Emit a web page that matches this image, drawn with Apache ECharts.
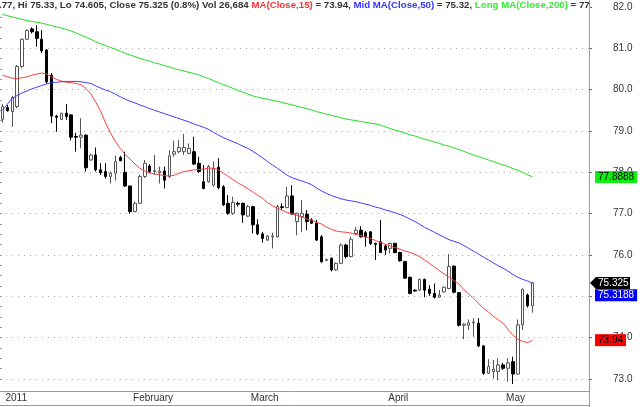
<!DOCTYPE html>
<html>
<head>
<meta charset="utf-8">
<script src="https://cdn.jsdelivr.net/npm/echarts@6/dist/echarts.min.js"></script>
<style>
  html, body { margin: 0; padding: 0; background: #fff; }
  #priceChart { width: 640px; height: 407px; }
</style>
</head>
<body>
<div id="priceChart"></div>
<script>
  // bar index where each month starts, and the label printed there
  const monthStarts = [0, 26, 50, 78, 102]
  const monthLabels = ['2011', 'February', 'March', 'April', 'May']
  const slotCount = 120

  // daily candles: [open, close, low, high]
  const candles = [
    [79.28, 79.59, 79.20, 79.65], [79.57, 79.49, 79.47, 79.63], [79.47, 79.81, 79.10, 79.85],
    [79.59, 80.56, 79.55, 80.60], [80.56, 81.22, 80.52, 81.24], [81.22, 81.43, 81.20, 81.46],
    [81.47, 81.40, 81.36, 81.51], [81.40, 81.24, 81.04, 81.56], [81.22, 80.94, 80.88, 81.44],
    [80.96, 80.19, 80.14, 80.98], [80.35, 79.36, 79.19, 80.40], [79.36, 79.33, 78.98, 79.39],
    [79.28, 79.43, 79.27, 79.44], [79.43, 79.35, 79.27, 79.65], [79.39, 78.85, 78.77, 79.41],
    [78.87, 78.85, 78.50, 78.96], [78.85, 78.90, 78.58, 79.31], [78.90, 78.11, 78.02, 78.92],
    [78.30, 78.42, 78.28, 78.45], [78.42, 78.06, 78.02, 78.60], [78.06, 77.99, 77.94, 78.22],
    [78.02, 77.90, 77.85, 78.22], [77.90, 77.98, 77.73, 78.02], [77.98, 78.26, 77.80, 78.40],
    [78.36, 78.28, 78.27, 78.40], [78.00, 77.67, 77.65, 78.50], [77.67, 77.05, 77.00, 77.67],
    [77.05, 77.25, 77.03, 77.29], [77.25, 77.90, 77.25, 77.94], [77.90, 78.22, 77.86, 78.30],
    [78.15, 78.02, 77.99, 78.20], [78.02, 78.04, 77.94, 78.42], [77.99, 78.03, 77.73, 78.14],
    [78.03, 77.81, 77.61, 78.14], [77.90, 78.40, 77.86, 78.54], [78.44, 78.50, 78.38, 78.77],
    [78.50, 78.60, 78.46, 78.78], [78.50, 78.60, 78.42, 78.93], [78.46, 78.58, 78.44, 78.70],
    [78.50, 78.20, 78.18, 78.86], [78.22, 78.02, 77.99, 78.38], [77.77, 77.61, 77.59, 78.18],
    [77.77, 78.14, 77.75, 78.18], [77.69, 78.10, 77.65, 78.26], [78.12, 77.63, 77.59, 78.34],
    [77.65, 77.21, 77.19, 77.69], [77.25, 77.01, 76.97, 77.45], [77.01, 77.27, 76.97, 77.41],
    [77.25, 77.23, 77.17, 77.29], [77.25, 76.97, 76.78, 77.27], [76.94, 77.17, 76.92, 77.21],
    [77.17, 76.73, 76.52, 77.19], [76.73, 76.51, 76.48, 76.86], [76.51, 76.40, 76.30, 76.56],
    [76.36, 76.46, 76.34, 76.48], [76.44, 76.46, 76.16, 76.54], [76.44, 77.17, 76.42, 77.21],
    [77.17, 77.15, 77.09, 77.25], [77.15, 77.43, 77.13, 77.65], [77.43, 76.99, 76.97, 77.69],
    [76.81, 77.01, 76.48, 77.02], [76.93, 77.01, 76.56, 77.33], [76.99, 76.81, 76.60, 77.09],
    [76.85, 76.77, 76.75, 76.89], [76.77, 76.36, 76.34, 76.85], [76.44, 75.84, 75.81, 76.48],
    [75.87, 75.89, 75.85, 75.91], [75.92, 75.64, 75.60, 75.94], [75.64, 75.80, 75.62, 75.82],
    [75.80, 76.24, 75.78, 76.28], [76.24, 75.96, 75.92, 76.27], [75.96, 76.38, 75.94, 76.44],
    [76.52, 76.60, 76.48, 76.68], [76.60, 76.44, 76.42, 76.70], [76.54, 76.44, 76.20, 76.58],
    [76.56, 76.28, 76.24, 76.58], [76.28, 76.26, 75.88, 76.30], [76.32, 76.06, 76.05, 76.85],
    [76.22, 76.12, 76.00, 76.26], [76.16, 76.28, 76.04, 76.30], [76.28, 76.06, 76.04, 76.30],
    [76.06, 75.86, 75.84, 76.08], [75.84, 75.44, 75.42, 75.86], [75.46, 75.07, 75.05, 75.48],
    [75.15, 75.13, 75.11, 75.17], [75.15, 75.41, 75.13, 75.43], [75.41, 75.15, 74.98, 75.43],
    [75.17, 75.07, 75.01, 75.27], [75.07, 74.98, 74.95, 75.31], [74.98, 75.03, 74.96, 75.15],
    [75.11, 75.22, 75.09, 75.24], [75.19, 75.72, 75.17, 76.02], [75.73, 75.10, 75.07, 75.75],
    [75.09, 74.30, 74.27, 75.10], [74.30, 74.33, 73.96, 74.35], [74.30, 74.36, 74.19, 74.44],
    [74.36, 74.38, 74.02, 74.47], [74.35, 73.80, 73.78, 74.47], [73.80, 73.14, 73.10, 73.82],
    [73.14, 73.30, 73.12, 73.48], [73.18, 73.24, 73.01, 73.46], [73.18, 73.34, 72.97, 73.50],
    [73.34, 73.26, 73.22, 73.39], [73.26, 73.39, 72.93, 73.50], [73.42, 73.12, 72.88, 73.54],
    [73.12, 74.31, 73.10, 74.44], [74.31, 75.17, 74.19, 75.19], [75.03, 74.77, 74.73, 75.07],
    [74.77, 75.325, 74.605, 75.33]
  ]

  // moving averages
  const ma15 = [
    80.35, 80.31, 80.28, 80.27, 80.29, 80.31, 80.35, 80.38, 80.40, 80.38,
    80.31, 80.25, 80.21, 80.18, 80.17, 80.15, 80.12, 80.03, 79.90, 79.70,
    79.48, 79.20, 78.95, 78.75, 78.58, 78.43, 78.32, 78.20, 78.10, 78.03,
    77.98, 77.96, 77.94, 77.92, 77.91, 77.93, 77.98, 78.02, 78.04, 78.06,
    78.07, 78.08, 78.10, 78.10, 78.06, 77.98, 77.90, 77.82, 77.74, 77.68,
    77.60, 77.53, 77.45, 77.37, 77.27, 77.19, 77.13, 77.08, 77.03, 77.00,
    76.96, 76.92, 76.87, 76.84, 76.79, 76.75, 76.68, 76.62, 76.58, 76.56,
    76.55, 76.53, 76.50, 76.47, 76.43, 76.40, 76.35, 76.30, 76.26, 76.22,
    76.18, 76.14, 76.10, 76.06, 76.02, 75.96, 75.88, 75.80, 75.71, 75.62,
    75.54, 75.46, 75.38, 75.30, 75.16, 75.06, 74.95, 74.83, 74.71, 74.62,
    74.52, 74.43, 74.35, 74.20, 74.06, 73.96, 73.91, 73.88, 73.94
  ]
  const ma50 = [
    79.50, 79.65, 79.79, 79.86, 79.92, 79.97, 80.02, 80.06, 80.10, 80.14,
    80.17, 80.18, 80.19, 80.20, 80.20, 80.20, 80.19, 80.17, 80.15, 80.09,
    80.04, 79.99, 79.95, 79.89, 79.83, 79.77, 79.72, 79.68, 79.63, 79.59,
    79.54, 79.50, 79.46, 79.42, 79.38, 79.34, 79.30, 79.26, 79.22, 79.17,
    79.13, 79.09, 79.04, 78.97, 78.90, 78.84, 78.79, 78.74, 78.69, 78.63,
    78.58, 78.51, 78.43, 78.35, 78.26, 78.18, 78.10, 78.02, 77.93, 77.87,
    77.83, 77.79, 77.75, 77.70, 77.62, 77.55, 77.49, 77.44, 77.40, 77.36,
    77.33, 77.31, 77.29, 77.26, 77.23, 77.20, 77.16, 77.13, 77.09, 77.06,
    77.02, 76.98, 76.93, 76.87, 76.81, 76.74, 76.67, 76.61, 76.55, 76.49,
    76.43, 76.37, 76.33, 76.29, 76.23, 76.16, 76.09, 76.02, 75.95, 75.88,
    75.81, 75.74, 75.68, 75.61, 75.53, 75.46, 75.41, 75.37, 75.32
  ]
  const ma200 = [
    81.82, 81.79, 81.76, 81.73, 81.70, 81.67, 81.65, 81.63, 81.61, 81.58,
    81.55, 81.52, 81.49, 81.46, 81.42, 81.37, 81.32, 81.27, 81.22, 81.16,
    81.11, 81.07, 81.02, 80.98, 80.93, 80.88, 80.84, 80.80, 80.76, 80.72,
    80.69, 80.65, 80.62, 80.58, 80.55, 80.51, 80.48, 80.45, 80.42, 80.39,
    80.36, 80.31, 80.27, 80.22, 80.17, 80.12, 80.08, 80.03, 79.98, 79.94,
    79.89, 79.85, 79.82, 79.79, 79.77, 79.74, 79.72, 79.69, 79.66, 79.63,
    79.60, 79.57, 79.54, 79.51, 79.47, 79.44, 79.41, 79.38, 79.35, 79.32,
    79.29, 79.27, 79.25, 79.23, 79.21, 79.19, 79.17, 79.14, 79.10, 79.06,
    79.02, 78.99, 78.95, 78.91, 78.88, 78.84, 78.80, 78.77, 78.73, 78.70,
    78.66, 78.63, 78.59, 78.55, 78.51, 78.46, 78.42, 78.38, 78.34, 78.30,
    78.26, 78.22, 78.18, 78.14, 78.09, 78.05, 78.00, 77.94, 77.89
  ]

  // values printed in the tags on the price axis
  const tagValues = [77.8888, 75.325, 75.3188, 73.94]
  const tagLabels = ['77.8888', '75.325', '75.3188', '73.94']

  const categories = []
  for (let i = 0; i < slotCount; i++) categories.push(String(i))

  const font = 'Liberation Sans, Arial, sans-serif'
  const headSize = 9.7
  const isMonthStart = (index) => monthStarts.indexOf(index) >= 0

  const chart = echarts.init(document.getElementById('priceChart'))
  const option = {
    animation: false,
    backgroundColor: '#fff',
    title: {
      left: -1,
      top: 0,
      padding: 0,
      backgroundColor: '#fff',
      text: '{t|.77, Hi 75.33, Lo 74.605, Close 75.325 (0.8%) Vol 26,684 }{r|MA(Close,15)}{t| = 73.94, }' +
        '{b|Mid MA(Close,50)}{t| = 75.32, }{g|Long MA(Close,200)}{t| = 77.}',
      textStyle: {
        fontSize: headSize,
        fontFamily: font,
        rich: {
          t: { color: '#333', fontSize: headSize, fontFamily: font },
          r: { color: '#ff3333', fontSize: headSize, fontFamily: font },
          b: { color: '#3333ff', fontSize: headSize, fontFamily: font },
          g: { color: '#33ee33', fontSize: headSize, fontFamily: font }
        }
      }
    },
    grid: { left: 0, right: 51, top: 7, bottom: 28 },
    xAxis: {
      type: 'category',
      data: categories,
      boundaryGap: true,
      offset: 12,
      axisLine: { lineStyle: { color: '#999' } },
      axisTick: {
        alignWithLabel: true,
        interval: (index) => isMonthStart(index),
        length: 6,
        lineStyle: { color: '#666' }
      },
      axisLabel: {
        interval: (index) => isMonthStart(index),
        formatter: (value, index) => {
          const k = monthStarts.indexOf(index)
          return k >= 0 ? monthLabels[k] : ''
        },
        align: 'left',
        margin: 2,
        padding: [0, 0, 0, 3],
        color: '#333',
        fontSize: 10,
        fontFamily: font
      },
      splitLine: { show: false }
    },
    yAxis: [
      {
        type: 'value',
        position: 'right',
        min: 73,
        max: 82,
        interval: 1,
        axisLine: { show: false },
        axisTick: { show: true, length: 3, lineStyle: { color: '#666' } },
        axisLabel: {
          margin: 24,
          color: '#333',
          fontSize: 10,
          fontFamily: font,
          formatter: (v) => v.toFixed(1)
        },
        splitLine: { show: true, lineStyle: { color: '#aaa', type: [1, 5] } }
      },
      {
        type: 'value',
        position: 'left',
        min: 73,
        max: 82,
        interval: 1,
        axisLine: { show: false },
        axisTick: { show: true, inside: true, length: 2, lineStyle: { color: '#999' } },
        minorTick: { show: true, splitNumber: 4, length: 2, lineStyle: { color: '#999' } },
        axisLabel: { show: false },
        splitLine: { show: false }
      }
    ],
    series: [
      {
        name: 'Price',
        type: 'candlestick',
        data: candles,
        barWidth: 3,
        clip: false,
        itemStyle: {
          color: '#fff',
          color0: '#000',
          borderColor: '#555',
          borderColor0: '#000',
          borderWidth: 1
        }
      },
      {
        name: 'MA(Close,15)',
        type: 'line',
        data: ma15,
        showSymbol: false,
        lineStyle: { color: '#ff4040', width: 1 }
      },
      {
        name: 'Mid MA(Close,50)',
        type: 'line',
        data: ma50,
        showSymbol: false,
        lineStyle: { color: '#4040ff', width: 1 }
      },
      {
        name: 'Long MA(Close,200)',
        type: 'line',
        data: ma200,
        showSymbol: false,
        lineStyle: { color: '#22dd22', width: 1 }
      }
    ]
  }
  chart.setOption(option)

  // frame lines and value tags on the price axis
  const yOf = (v) => chart.convertToPixel({ yAxisIndex: 0 }, v)
  const tagFont = '10px ' + font
  const greenY = yOf(tagValues[0])
  const closeY = yOf(tagValues[1])
  const blueY = yOf(tagValues[2]) + 12
  const redY = yOf(tagValues[3])

  chart.setOption({
    graphic: [
      { type: 'line', z: 90, shape: { x1: 589.5, y1: 0, x2: 589.5, y2: 407 }, style: { stroke: '#999', lineWidth: 1 } },
      { type: 'line', z: 90, shape: { x1: 0, y1: 405.5, x2: 589.5, y2: 405.5 }, style: { stroke: '#999', lineWidth: 1 } },
      {
        type: 'text', z: 100, x: 595, y: greenY,
        style: { text: tagLabels[0], font: tagFont, fill: '#000', backgroundColor: '#11ee11', padding: [1, 3, 1, 3], verticalAlign: 'middle' }
      },
      {
        type: 'polygon', z: 100,
        shape: { points: [[590, closeY], [596, closeY - 6], [630, closeY - 6], [630, closeY + 6], [596, closeY + 6]] },
        style: { fill: '#000' }
      },
      {
        type: 'text', z: 101, x: 598, y: closeY,
        style: { text: tagLabels[1], font: tagFont, fill: '#fff', verticalAlign: 'middle' }
      },
      {
        type: 'text', z: 100, x: 595, y: blueY,
        style: { text: tagLabels[2], font: tagFont, fill: '#fff', backgroundColor: '#0000ff', padding: [1, 3, 1, 3], verticalAlign: 'middle' }
      },
      {
        type: 'text', z: 100, x: 595, y: redY,
        style: { text: tagLabels[3], font: tagFont, fill: '#000', backgroundColor: '#ff0000', padding: [1, 3, 1, 3], verticalAlign: 'middle' }
      }
    ]
  })
</script>
</body>
</html>
